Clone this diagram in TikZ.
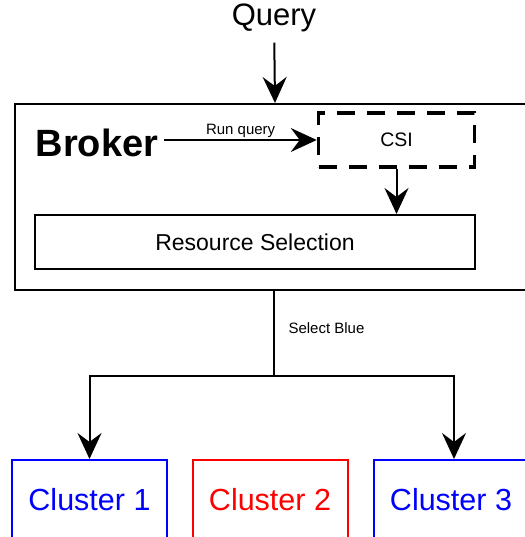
\documentclass[tikz,border=0pt]{standalone}
\usepackage{fontspec}
\setmainfont{Liberation Sans}
\usetikzlibrary{arrows.meta}

\begin{document}
\begin{tikzpicture}[x=1pt, y=-1pt,
    arr/.style={line width=2pt, -{Stealth[length=26pt, width=24pt, inset=9pt]}},
    box/.style={draw, line width=2pt, rectangle, inner sep=0pt},
    small/.style={font=\fontsize{15}{18}\selectfont},
    clusterbox/.style={box, minimum width=155pt, minimum height=80pt, anchor=north, font=\fontsize{30.5}{36}\selectfont}]
        \useasboundingbox (0, 0) rectangle (524, 537);
        % broker and its inner parts
        \node[box, minimum width=520pt, minimum height=186pt, anchor=north west] (broker) at (14, 103) {};
        \node[font=\fontsize{31}{36}\selectfont] (query) at (274, 18) {Query};
        \node[font=\bfseries\fontsize{38}{44}\selectfont, inner sep=0pt] (name) at (97, 143) {Broker};
        \node[draw, line width=3.5pt, dash pattern=on 18pt off 12pt, minimum width=156pt, minimum height=54pt, font=\fontsize{19.5}{23}\selectfont] (csi) at (396.5, 140) {CSI};
        \node[box, minimum width=440pt, minimum height=54pt, font=\fontsize{23}{27}\selectfont] (rs) at (255, 242) {Resource Selection};
        % clusters
        \node[clusterbox, draw=blue, text=blue] (c1) at (89.5, 459) {Cluster 1};
        \node[clusterbox, draw=red, text=red] (c2) at (270, 459) {Cluster 2};
        \node[clusterbox, draw=blue, text=blue] (c3) at (451, 459) {Cluster 3};
        \coordinate (split) at (274, 376);
        \node[small, anchor=west] (sel) at (285, 328) {Select Blue};
        \draw[arr, shorten <=7pt] (query) -- (broker.north);
        \draw[arr] (name.east) ++(6, -3) coordinate (rqs) -- (csi.west |- rqs) node[midway, above, inner sep=1pt, small] (rqlabel) {Run query};
        \draw[arr] (csi.south) -- (csi.south |- rs.north);
        \draw[line width=2pt] (broker.south -| split) -- (split);
        \draw[arr] (split) -| (c1.north);
        \draw[arr] (split) -| (c3.north -| 454, 0);
      \end{tikzpicture}
\end{document}
